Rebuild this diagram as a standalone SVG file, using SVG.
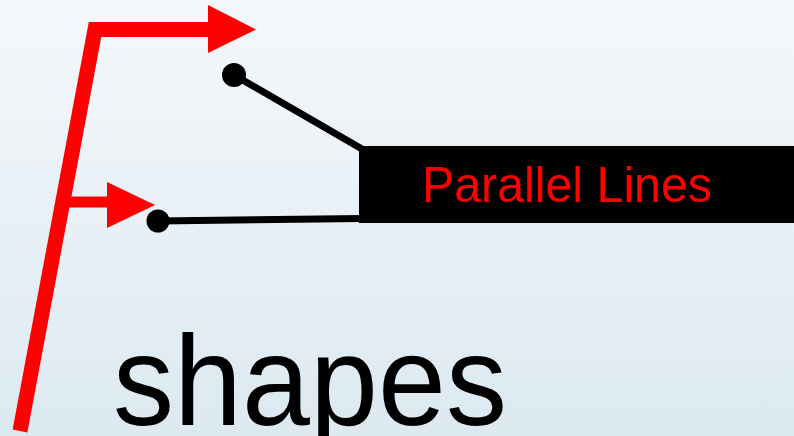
<svg xmlns="http://www.w3.org/2000/svg" width="794" height="436" viewBox="0 0 794 436">
<defs>
<linearGradient id="bg" x1="0" y1="0" x2="0" y2="1">
<stop offset="0" stop-color="#f5f8fb"/>
<stop offset="1" stop-color="#dce9f1"/>
</linearGradient>
<style>
.red{fill:none;stroke:#ff0000;stroke-linejoin:miter;stroke-miterlimit:10}
.head{fill:#ff0000}
.blk{stroke:#000;fill:none}
.dot{fill:#000}
</style>
</defs>
<rect width="794" height="436" fill="url(#bg)"/>
<g id="connectors">
<polyline class="red" stroke-width="15" points="20,431 95,29.5 212,29.5"/>
<polygon class="head" points="208,5 256,29.5 208,53"/>
<line class="red" stroke-width="11" x1="68" y1="202" x2="110" y2="202"/>
<polygon class="head" points="107,182 155,205 107,228"/>
<line class="blk" stroke-width="7" x1="234" y1="75" x2="362" y2="149"/>
<line class="blk" stroke-width="7" x1="158" y1="221" x2="362" y2="218.5"/>
<circle class="dot" cx="234" cy="75" r="12"/>
<circle class="dot" cx="158" cy="221" r="11.5"/>
</g>
<g id="label">
<rect x="359" y="146" width="435" height="77" fill="#000"/>
<text x="422" y="202" font-family="Liberation Sans, Arial, sans-serif" font-size="50" fill="#ff0000" textLength="290" lengthAdjust="spacingAndGlyphs">Parallel Lines</text>
</g>
<g id="title">
<text x="113" y="425" font-family="Liberation Sans, Arial, sans-serif" font-size="128" fill="#000" textLength="394" lengthAdjust="spacingAndGlyphs">shapes</text>
</g>
</svg>
